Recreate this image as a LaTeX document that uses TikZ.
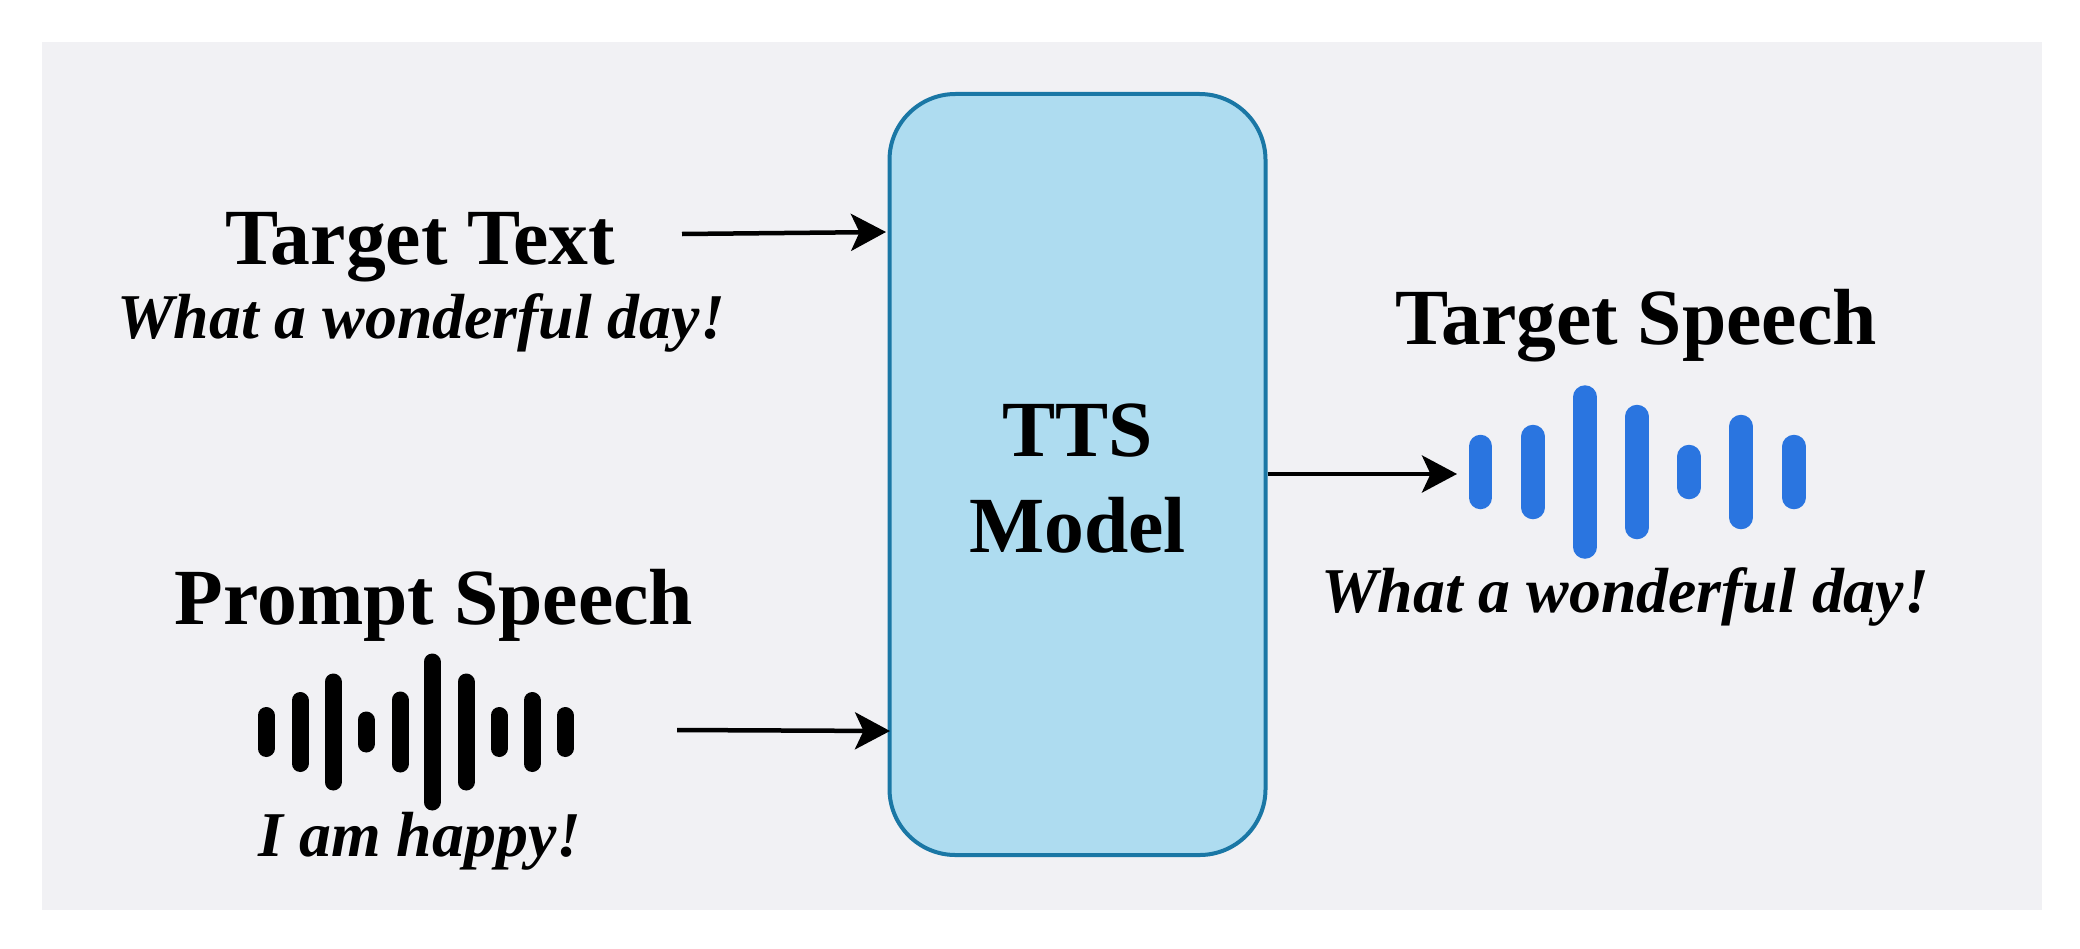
\documentclass[tikz,border=0pt]{standalone}
\usepackage{fontspec}
\setmainfont{Liberation Serif}
\usetikzlibrary{arrows.meta}
\definecolor{panelgray}{HTML}{F1F1F4}
\definecolor{modelfill}{HTML}{AEDCF0}
\definecolor{modeledge}{HTML}{1A77A5}
\definecolor{waveblue}{HTML}{2A75E0}
\tikzset{
    titletext/.style={anchor=base, inner sep=0pt, font=\fontsize{45.3}{50}\selectfont\bfseries},
    quotetext/.style={anchor=base, inner sep=0pt, font=\fontsize{36.3}{42}\selectfont\bfseries\itshape},
    modelbox/.style={draw=modeledge, fill=modelfill, line width=0.8mm, rounded corners=13.2mm,
        minimum width=75.2mm, minimum height=152.2mm},
    modeltext/.style={align=center, inner sep=0pt, font=\fontsize{45.3}{54.6}\selectfont\bfseries},
    flow/.style={line width=0.9mm, -{Stealth[length=7mm, width=7.4mm, inset=1.7mm]}},
}
\begin{document}
\begin{tikzpicture}[x=0.2mm, y=-0.2mm]
\useasboundingbox (0,0) rectangle (2080,948);
\fill[panelgray] (42,42) rectangle (2042,910);

\node[modelbox] (model) at (1077.5,474.5) {};
\node[modeltext] (modellabel) at (1077.5,479) {TTS\\Model};

\node[titletext] (targettext) at (420,264) {Target Text};
\node[quotetext] (targetquote) at (421,338) {What a wonderful day!};
\node[titletext] (promptspeech) at (434,624) {Prompt Speech};
\node[quotetext] (promptquote) at (420,856) {I am happy!};
\node[titletext] (targetspeech) at (1636,344) {Target Speech};
\node[quotetext] (speechquote) at (1625,612) {What a wonderful day!};

% prompt waveform
\foreach \xpos/\halfh in {266/25, 300/40, 333/58.5, 366/20.5, 400/40.5,
                          432/78.5, 466/58.5, 499/25, 532/40, 565/25}
    \draw[line width=3.4mm, line cap=round, black]
        (\xpos,732-\halfh+8.5) -- (\xpos,732+\halfh-8.5);

% target waveform
\foreach \xpos/\halfh in {1480.5/37.5, 1533/47.5, 1585/87, 1637/67.5,
                          1689/27.5, 1741/57.5, 1794/37.5}
    \draw[line width=4.7mm, line cap=round, waveblue]
        (\xpos,472-\halfh+12) -- (\xpos,472+\halfh-12);

\coordinate (textstart) at (682,234);
\coordinate (textend) at (886,232);
\coordinate (promptstart) at (677,730);
\coordinate (promptend) at (890,731);
\coordinate (speechend) at (1457,474);

\draw[flow] (textstart) -- (textend);
\draw[flow] (promptstart) -- (promptend);
\draw[flow] (model.east |- speechend) -- (speechend);
\end{tikzpicture}
\end{document}
